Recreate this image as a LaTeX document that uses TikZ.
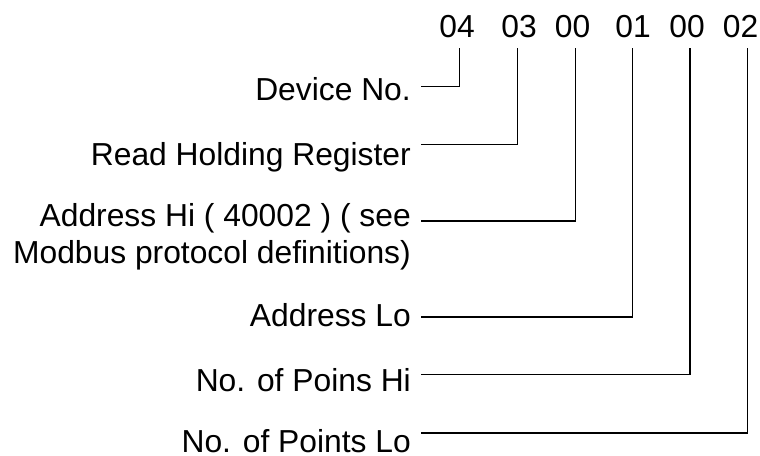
\documentclass[tikz,border=0pt]{standalone}
\usepackage{fontspec}
\setmainfont{Liberation Sans}
\begin{document}
\begin{tikzpicture}[x=1pt,y=-1pt,
  lbl/.style={anchor=base east,inner sep=0pt,font=\fontsize{31.8}{36}\selectfont},
  num/.style={anchor=base,inner sep=0pt,font=\fontsize{31.8}{36}\selectfont},
  conn/.style={draw=black,line width=1.6pt}]
\useasboundingbox (0,0) rectangle (760,455);
% byte values
\node[num] (b1) at (457,37) {04};
\node[num] (b2) at (519,37) {03};
\node[num] (b3) at (572.5,37) {00};
\node[num] (b4) at (633,37) {01};
\node[num] (b5) at (687,37) {00};
\node[num] (b6) at (740.5,37) {02};
% labels
\node[lbl] (l1) at (411,100.7) {Device No.};
\node[lbl] (l2) at (411,165.3) {Read Holding Register};
\node[lbl] (l3a) at (411,226.7) {Address Hi ( 40002 ) ( see};
\node[lbl] (l3b) at (411,263.2) {Modbus protocol definitions)};
\node[lbl] (l4) at (411,326.7) {Address Lo};
\node[lbl] (l5) at (411,391) {No. of Poins Hi};
\node[lbl] (l6) at (411,452.8) {No. of Points Lo};
% connector ends
\coordinate (s1) at (421,86.5);
\coordinate (s2) at (421,144.5);
\coordinate (s3) at (421,221);
\coordinate (s4) at (421,316.7);
\coordinate (s5) at (421,374.3);
\coordinate (s6) at (421,432.7);
\coordinate (t1) at (459.5,48);
\coordinate (t2) at (517.5,48);
\coordinate (t3) at (575.5,48);
\coordinate (t4) at (632.5,48);
\coordinate (t5) at (690,48);
\coordinate (t6) at (747.5,48);
\draw[conn] (s1) -| (t1);
\draw[conn] (s2) -| (t2);
\draw[conn] (s3) -| (t3);
\draw[conn] (s4) -| (t4);
\draw[conn] (s5) -| (t5);
\draw[conn] (s6) -| (t6);
\end{tikzpicture}
\end{document}
